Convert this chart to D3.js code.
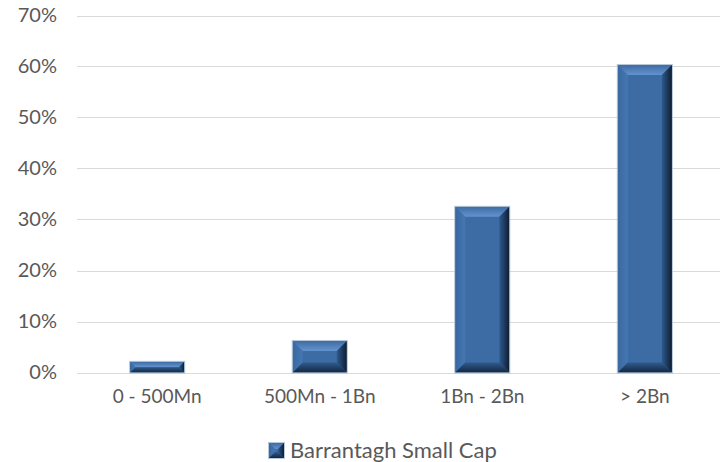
<!DOCTYPE html>
<html><head><meta charset="utf-8">
<script src="https://cdn.jsdelivr.net/npm/d3@7"></script>
<style>body{margin:0;background:#fff}svg{display:block}</style>
</head><body><div id="c"></div>
<script>
const categories = ["0 - 500Mn", "500Mn - 1Bn", "1Bn - 2Bn", "> 2Bn"];
const values = [0.021, 0.062, 0.325, 0.603];
const yTicks = [0, 0.1, 0.2, 0.3, 0.4, 0.5, 0.6, 0.7];
const seriesName = "Barrantagh Small Cap";

const W = 720, H = 462;
const svg = d3.select("#c").append("svg").attr("width", W).attr("height", H);
const font = "Lato, 'Open Sans', sans-serif";
const txt = "#595959";

const x = d3.scaleBand().domain(categories).range([76, 726]).paddingInner(0.667).paddingOuter(0.333);
const y = d3.scaleLinear().domain([0, 0.7]).range([372.5, 15.5]);

const defs = svg.append("defs");
function lg(id, x1, y1, x2, y2, stops) {
  const g = defs.append("linearGradient").attr("id", id)
    .attr("x1", x1).attr("y1", y1).attr("x2", x2).attr("y2", y2);
  stops.forEach(s => g.append("stop").attr("offset", s[0]).attr("stop-color", s[1]));
}
lg("gTop", 0, 0, 0, 1, [[0, "#3e6ca4"], [1, "#6393cf"]]);
lg("gLeft", 0, 0, 1, 0, [[0, "#3a68a0"], [1, "#4577b3"]]);
lg("gRight", 0, 0, 1, 0, [[0, "#2d5a8e"], [1, "#0e1d31"]]);
lg("gBot", 0, 0, 0, 1, [[0, "#2f5b8e"], [1, "#142740"]]);

// gridlines
svg.append("g").selectAll("line").data(yTicks).join("line")
  .attr("x1", 77).attr("x2", W)
  .attr("y1", d => Math.round(y(d)) + 0.5).attr("y2", d => Math.round(y(d)) + 0.5)
  .attr("stroke", "#d9d9d9").attr("stroke-width", 1.2);

// y axis labels
const yAxis = d3.axisLeft(y).tickValues(yTicks).tickFormat(d3.format(".0%")).tickSize(0).tickPadding(0);
const ya = svg.append("g").attr("transform", "translate(57,0)").call(yAxis);
ya.select(".domain").remove();
ya.selectAll("text").attr("fill", txt).style("font-family", font).style("font-size", "20px");

// x axis labels
const xAxis = d3.axisBottom(x).tickSize(0).tickPadding(0);
const xa = svg.append("g").attr("transform", "translate(0,389)").call(xAxis);
xa.select(".domain").remove();
xa.selectAll("text").attr("fill", txt).style("font-family", font).style("font-size", "19px");

function bevelBar(g, x0, y0, w, h, b) {
  b = Math.min(b, h / 2, w / 2);
  const x1 = x0 + w, y1 = y0 + h;
  g.append("rect").attr("x", x0).attr("y", y0).attr("width", w).attr("height", h).attr("fill", "#3d6ba3");
  const poly = (pts, fill) => g.append("polygon").attr("points", pts.map(p => p.join(",")).join(" ")).attr("fill", fill);
  poly([[x0, y0], [x1, y0], [x1 - b, y0 + b], [x0 + b, y0 + b]], "url(#gTop)");
  poly([[x0, y0], [x0 + b, y0 + b], [x0 + b, y1 - b], [x0, y1]], "url(#gLeft)");
  poly([[x1, y0], [x1, y1], [x1 - b, y1 - b], [x1 - b, y0 + b]], "url(#gRight)");
  poly([[x0, y1], [x0 + b, y1 - b], [x1 - b, y1 - b], [x1, y1]], "url(#gBot)");
  g.append("rect").attr("x", x0 - 0.5).attr("y", y0 - 0.5).attr("width", w + 1).attr("height", h + 1)
    .attr("fill", "none").attr("stroke", "#a9bcd2").attr("stroke-width", 0.8);
}

const bars = svg.append("g");
categories.forEach((c, i) => {
  const g = bars.append("g");
  bevelBar(g, x(c), y(values[i]), x.bandwidth(), y(0) - y(values[i]), 10);
});

// legend
const lgG = svg.append("g");
lgG.append("text").attr("x", 290).attr("y", 458).attr("fill", txt)
  .style("font-family", font).style("font-size", "22px").text(seriesName);
bevelBar(lgG.append("g"), 269, 443, 15, 15, 6);
</script></body></html>
